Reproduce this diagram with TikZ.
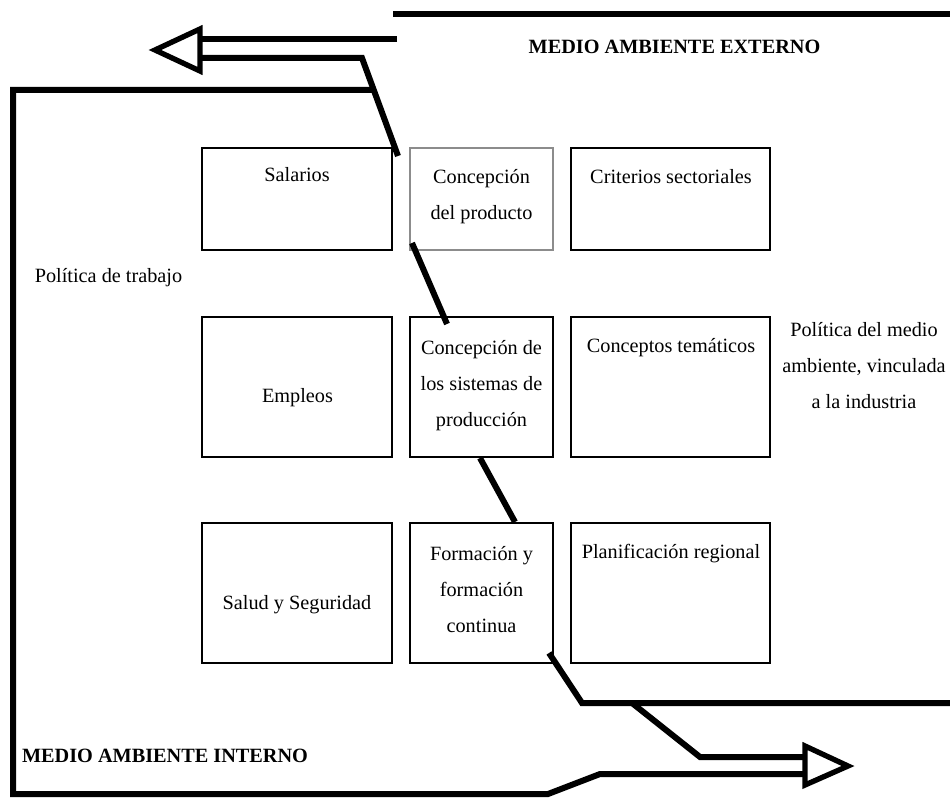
\documentclass[tikz,border=0pt]{standalone}
\usepackage{fontspec}
\setmainfont{Liberation Serif}
\begin{document}
\begin{tikzpicture}[x=0.75pt,y=-0.75pt,
  every node/.style={font=\fontsize{15.2}{27}\selectfont, inner sep=0pt, outer sep=0pt},
  cellbox/.style={draw, line width=2.2pt, fill=none},
  greybox/.style={draw=black!45, line width=1pt},
  heavy/.style={line width=4.5pt, line join=miter},
  headbox/.style={line width=4pt, line join=miter},
  lbl/.style={align=center, anchor=center},
  one/.style={anchor=base},
  hdr/.style={anchor=base, font=\fontsize{15.2}{27}\selectfont\bfseries}
]
\useasboundingbox (0,0) rectangle (950,798);
% boxes
\node[cellbox, minimum width=142.5pt, minimum height=76.5pt] (sal) at (297,199) {};
\node[greybox, minimum width=107.25pt, minimum height=76.5pt] (prod) at (481.5,199) {};
\node[cellbox, minimum width=149.25pt, minimum height=76.5pt] (crit) at (670.5,199) {};
\node[cellbox, minimum width=142.5pt, minimum height=105pt] (emp) at (297,387) {};
\node[cellbox, minimum width=107.25pt, minimum height=105pt] (sis) at (481.5,387) {};
\node[cellbox, minimum width=149.25pt, minimum height=105pt] (tem) at (670.5,387) {};
\node[cellbox, minimum width=142.5pt, minimum height=105pt] (sal2) at (297,593) {};
\node[cellbox, minimum width=107.25pt, minimum height=105pt] (form) at (481.5,593) {};
\node[cellbox, minimum width=149.25pt, minimum height=105pt] (plan) at (670.5,593) {};
% box texts
\node[one] (tsal) at (297,182) {Salarios};
\node[lbl] (tprod) at (481.5,196.5) {Concepción\\del producto};
\node[one] (tcrit) at (671,184) {Criterios sectoriales};
\node[one] (temp) at (297.5,403) {Empleos};
\node[lbl] (tsis) at (481.5,385.5) {Concepción de\\los sistemas de\\producción};
\node[one] (ttem) at (671,353) {Conceptos temáticos};
\node[one] (tsal2) at (297,609) {Salud y Seguridad};
\node[lbl] (tform) at (481.5,589.5) {Formación y\\formación\\continua};
\node[one] (tplan) at (671,558) {Planificación regional};
% side texts
\node[one] (trab) at (108.5,283) {Política de trabajo};
\node[lbl] (tamb) at (864,365.5) {Política del medio\\ambiente, vinculada\\a la industria};
\node[hdr] (ext) at (674.5,54) {MEDIO AMBIENTE EXTERNO};
\node[hdr, anchor=base west] (int) at (22,762) {MEDIO AMBIENTE INTERNO};
% coordinates of the frame lines
\coordinate (o1) at (393,14);
\coordinate (o2) at (952,14);
\coordinate (u1) at (397,39);
\coordinate (u2) at (200,39);
\coordinate (l1) at (200,58);
\coordinate (l2) at (362,58);
\coordinate (l3) at (398,156);
\coordinate (h1) at (200,29);
\coordinate (h2) at (155,50);
\coordinate (h3) at (200,71);
\coordinate (i1) at (375,90);
\coordinate (i2) at (13,90);
\coordinate (i3) at (13,794);
\coordinate (i4) at (548,794);
\coordinate (i5) at (600,774);
\coordinate (i6) at (805,774);
\coordinate (a1) at (805,746);
\coordinate (a2) at (848,766);
\coordinate (a3) at (805,785);
\coordinate (b1) at (805,757);
\coordinate (b2) at (700,757);
\coordinate (b3) at (632,703);
\coordinate (e1) at (549,653);
\coordinate (e2) at (582,703);
\coordinate (e3) at (952,703);
\coordinate (k1) at (412,243);
\coordinate (k2) at (447,324);
\coordinate (k3) at (480,458);
\coordinate (k4) at (515,522);
% thick lines
\draw[heavy] (o1) -- (o2);
\draw[heavy] (u1) -- (u2);
\draw[heavy] (l1) -- (l2) -- (l3);
\draw[headbox] (h1) -- (h2) -- (h3) -- cycle;
\draw[heavy] (i1) -- (i2) -- (i3) -- (i4) -- (i5) -- (i6);
\draw[headbox] (a1) -- (a2) -- (a3) -- cycle;
\draw[heavy] (b1) -- (b2) -- (b3);
\draw[heavy] (e1) -- (e2) -- (e3);
\draw[heavy] (k1) -- (k2);
\draw[heavy] (k3) -- (k4);
\end{tikzpicture}
\end{document}
